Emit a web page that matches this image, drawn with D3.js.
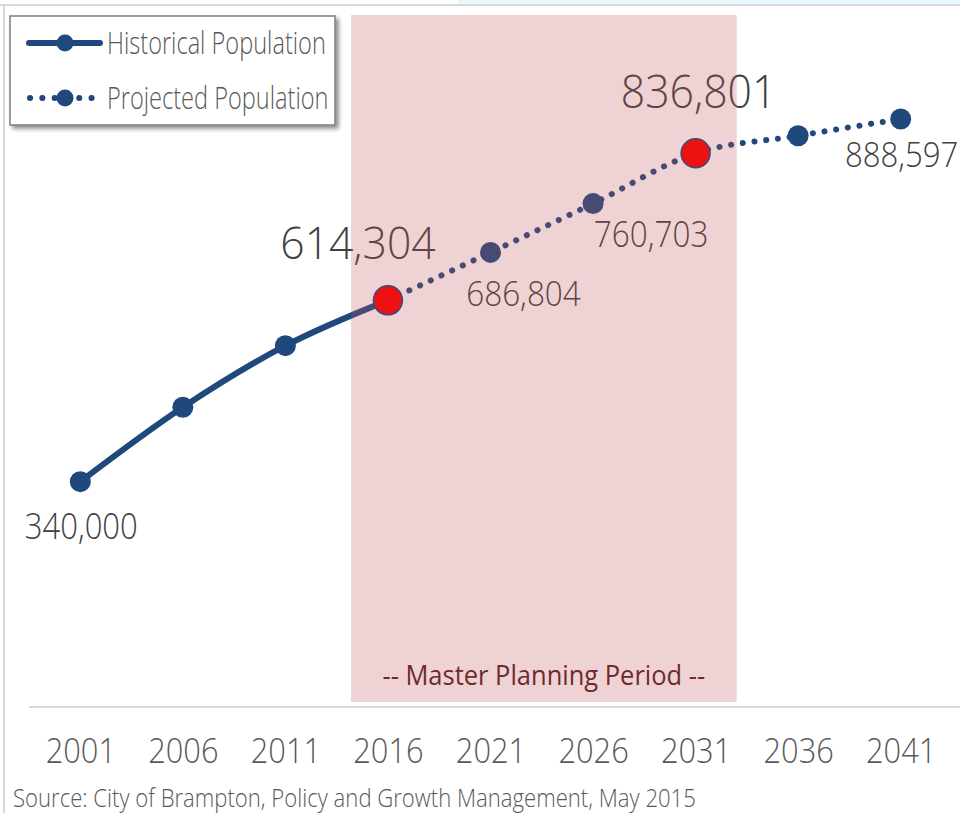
<!DOCTYPE html>
<html>
<head>
<meta charset="utf-8">
<script src="https://cdn.jsdelivr.net/npm/d3@7"></script>
<style>
  html, body { margin: 0; padding: 0; background: #fff; }
  svg { display: block; font-family: "Open Sans", "Noto Sans", sans-serif; font-weight: 300; }
</style>
</head>
<body>
<div id="chart"></div>
<script>
// data (2006, 2011, 2036 have no label)
const years = [2001, 2006, 2011, 2016, 2021, 2026, 2031, 2036, 2041];
const population = [340000, 452500, 545700, 614304, 686804, 760703, 836801, 863300, 888597];
const lastHistoricalYear = 2016;
const highlightYears = [2016, 2031];
const labelledYears = [2001, 2016, 2021, 2026, 2031, 2041];
const planningPeriod = [2014.2, 2033];
const legendLabels = ["Historical Population", "Projected Population"];
const periodLabel = "-- Master Planning Period --";
const sourceNote = "Source: City of Brampton, Policy and Growth Management, May 2015";

// where each value label sits relative to its marker
const labelLayout = {
    2001: { dx: 1, dy: 57, size: 37, squeeze: 0.84 },
    2016: { dx: -30, dy: -41, size: 44, squeeze: 0.97 },
    2021: { dx: 33, dy: 54, size: 35, squeeze: 0.9 },
    2026: { dx: 58, dy: 43, size: 36, squeeze: 0.875 },
    2031: { dx: 3, dy: -45, size: 46, squeeze: 0.93 },
    2041: { dx: 1, dy: 48, size: 35, squeeze: 0.89 }
};

const width = 960, height = 813;
const blue = "#1f497d";
const fmt = d3.format(",");

const data = years.map((y, i) => ({ year: y, value: population[i] }));
const historical = data.filter(d => d.year <= lastHistoricalYear);
const projected = data.filter(d => d.year >= lastHistoricalYear);

const svg = d3.select("#chart")
    .append("svg")
    .attr("width", width)
    .attr("height", height);

const defs = svg.append("defs");
const shadow = defs.append("filter")
    .attr("id", "shadow")
    .attr("x", "-10%").attr("y", "-10%")
    .attr("width", "130%").attr("height", "140%");
shadow.append("feDropShadow")
    .attr("dx", 3).attr("dy", 3)
    .attr("stdDeviation", 2)
    .attr("flood-color", "#000")
    .attr("flood-opacity", 0.45);

// condense a text to a share of its natural width
function squeeze(sel, f) {
    sel.each(function() {
        const len = this.getComputedTextLength();
        d3.select(this)
            .attr("textLength", len * f)
            .attr("lengthAdjust", "spacingAndGlyphs");
    });
}

const x = d3.scaleLinear()
    .domain([2001, 2041])
    .range([80.3, 900.7]);

const y = d3.scaleLinear()
    .domain([300000, 900000])
    .range([508.1, 111.5]);

// frame bits
svg.append("rect")
    .attr("x", 458).attr("y", 0)
    .attr("width", width - 458).attr("height", 4)
    .attr("fill", "#e9f8fc");
svg.append("line")
    .attr("x1", 0).attr("x2", width)
    .attr("y1", 5).attr("y2", 5)
    .attr("stroke", "#d9d9d9")
    .attr("stroke-width", 2);
svg.append("line")
    .attr("x1", 4).attr("x2", 4)
    .attr("y1", 5).attr("y2", height)
    .attr("stroke", "#d9d9d9")
    .attr("stroke-width", 2);

// axis
svg.append("line")
    .attr("x1", 29).attr("x2", width)
    .attr("y1", 707).attr("y2", 707)
    .attr("stroke", "#d9d9d9")
    .attr("stroke-width", 2);

const xAxis = svg.append("g")
    .attr("transform", "translate(0,707)")
    .call(d3.axisBottom(x).tickValues(years).tickFormat(d3.format("d")).tickSize(0));
xAxis.select(".domain").remove();
xAxis.selectAll("text")
    .attr("y", 56)
    .attr("dy", 0)
    .attr("fill", "#595959")
    .style("font-family", "'Open Sans', sans-serif")
    .style("font-weight", 300)
    .style("font-size", "35px")
    .call(squeeze, 0.88);

// lines
const line = d3.line()
    .x(d => x(d.year))
    .y(d => y(d.value))
    .curve(d3.curveMonotoneX);

svg.append("path")
    .datum(historical)
    .attr("d", line)
    .attr("fill", "none")
    .attr("stroke", blue)
    .attr("stroke-width", 6)
    .attr("stroke-linecap", "round");

svg.append("path")
    .datum(projected)
    .attr("d", line)
    .attr("fill", "none")
    .attr("stroke", blue)
    .attr("stroke-width", 6)
    .attr("stroke-linecap", "round")
    .attr("stroke-dasharray", "0.1 11.7");

svg.selectAll(".marker")
    .data(data.filter(d => !highlightYears.includes(d.year)))
    .enter().append("circle")
    .attr("class", "marker")
    .attr("cx", d => x(d.year))
    .attr("cy", d => y(d.value))
    .attr("r", 10.5)
    .attr("fill", blue);

// value labels
svg.selectAll(".value-label")
    .data(data.filter(d => labelledYears.includes(d.year)))
    .enter().append("text")
    .attr("class", "value-label")
    .attr("x", d => x(d.year) + labelLayout[d.year].dx)
    .attr("y", d => y(d.value) + labelLayout[d.year].dy)
    .attr("text-anchor", "middle")
    .attr("fill", "#404040")
    .style("font-size", d => labelLayout[d.year].size + "px")
    .text(d => fmt(d.value))
    .each(function(d) { d3.select(this).call(squeeze, labelLayout[d.year].squeeze); });

// master planning period band, laid over the series
svg.append("rect")
    .attr("x", x(planningPeriod[0]))
    .attr("y", 15)
    .attr("width", x(planningPeriod[1]) - x(planningPeriod[0]))
    .attr("height", 702 - 15)
    .attr("fill", "#bf4f53")
    .attr("opacity", 0.25);

svg.append("text")
    .attr("x", (x(planningPeriod[0]) + x(planningPeriod[1])) / 2)
    .attr("y", 685)
    .attr("text-anchor", "middle")
    .attr("fill", "#6e2a2c")
    .style("font-weight", 400)
    .style("font-size", "28px")
    .text(periodLabel)
    .call(squeeze, 0.91);

// highlighted points on top
svg.selectAll(".highlight")
    .data(data.filter(d => highlightYears.includes(d.year)))
    .enter().append("circle")
    .attr("class", "highlight")
    .attr("cx", d => x(d.year))
    .attr("cy", d => y(d.value))
    .attr("r", 14.5)
    .attr("fill", "#ee1111")
    .attr("stroke", "#3c4a7c")
    .attr("stroke-width", 1.5);

// legend
const legend = svg.append("g");
legend.append("rect")
    .attr("x", 10).attr("y", 16)
    .attr("width", 325).attr("height", 109)
    .attr("fill", "#fff")
    .attr("stroke", "#7f7f7f")
    .attr("stroke-width", 1.5)
    .attr("filter", "url(#shadow)");

const rows = legend.selectAll(".legend-row")
    .data(legendLabels)
    .enter().append("g")
    .attr("class", "legend-row")
    .attr("transform", (d, i) => `translate(0,${43 + i * 55})`);

rows.append("line")
    .attr("x1", (d, i) => i === 0 ? 29 : 30)
    .attr("x2", 100)
    .attr("y1", 0).attr("y2", 0)
    .attr("stroke", blue)
    .attr("stroke-width", 6)
    .attr("stroke-linecap", "round")
    .attr("stroke-dasharray", (d, i) => i === 0 ? null : "0.1 12.2");

rows.append("circle")
    .attr("cx", 65)
    .attr("r", 8.5)
    .attr("fill", blue);

rows.append("text")
    .attr("x", 107)
    .attr("y", 10.5)
    .attr("fill", "#595959")
    .style("font-size", "31px")
    .text(d => d)
    .call(squeeze, 0.76);

// source note
svg.append("text")
    .attr("x", 13)
    .attr("y", 807)
    .attr("fill", "#595959")
    .style("font-size", "26px")
    .text(sourceNote)
    .call(squeeze, 0.85);
</script>
</body>
</html>
